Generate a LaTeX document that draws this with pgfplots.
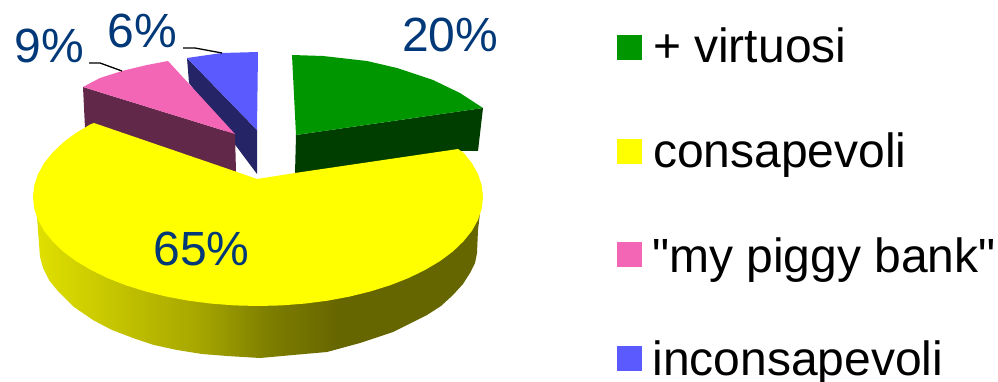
\documentclass[border=0pt]{standalone}
\usepackage{fontspec}
\setmainfont{Liberation Sans}
% Same face without TeX ligatures, so that " stays a straight quote
\newfontfamily\straightquotes{Liberation Sans}
\usepackage{pgfplots}
\pgfplotsset{compat=1.18}
\definecolor{gtop}{RGB}{0,150,0}
\definecolor{gside}{RGB}{0,62,0}
\definecolor{ytop}{RGB}{255,255,0}
\definecolor{ptop}{RGB}{243,102,181}
\definecolor{pside}{RGB}{98,40,73}
\definecolor{btop}{RGB}{90,90,255}
\definecolor{bside}{RGB}{36,36,102}
\definecolor{lab}{RGB}{0,56,120}
% Rim of the large slice: light on the left, dark from about two thirds across
\pgfdeclarehorizontalshading{yrim}{100bp}{
  color(0bp)=(ytop!88!black);
  color(25bp)=(ytop!88!black);
  color(32.5bp)=(ytop!79!black);
  color(43.5bp)=(ytop!65!black);
  color(51.5bp)=(ytop!49!black);
  color(59bp)=(ytop!40!black);
  color(100bp)=(ytop!40!black)}
\newcommand{\labelsize}{\fontsize{48}{52}\selectfont}
\begin{document}
\begin{tikzpicture}[x=1pt,y=1pt]
\path[use as bounding box] (0,0) rectangle (998,382);
\begin{axis}[
  at={(0,0)},anchor=south west,
  scale only axis,width=998pt,height=382pt,
  xmin=0,xmax=998,ymin=0,ymax=382,y dir=reverse,
  hide axis,clip=false,
  every axis plot/.append style={draw=none,mark=none},
]
% 6% slice
\addplot[fill=bside] coordinates {(187,58)(189,83)(257,174)(257,130)} --cycle;
\addplot[fill=btop] coordinates {(187,58)(222,53)(258,52)(257,130)} --cycle;
% 9% slice
\addplot[fill=pside] coordinates {(83,87)(85,128)(236,172)(235,134)} --cycle;
\addplot[fill=ptop] coordinates {(83,87)(100,78)(122,71)(147,65)(168,61)(235,134)} --cycle;
% 20% slice
\addplot[fill=gside] coordinates {(296,135)(483,108)(478,151)(458,151)(295,174)} --cycle;
\addplot[fill=gtop] coordinates {(292,55)(323,56)(367,61)(397,68)(433,80)(460,93)(483,108)(296,135)} --cycle;
% 65% slice: rim first, then the top face
\addplot[shading=yrim] coordinates {
  (34,205)(37,217)(40,257)(43,268)(49,280)(57,290)(74,307)(93,320)(112,330)(133,338)(154,345)
  (177,350)(202,354)(227,356)(260,358)(293,355)(327,352)(360,343)(393,332)(411,323)(427,315)
  (441,306)(453,295)(463,284)(470,273)(475,263)(477,253)(478,230)(481,205)(300,200)} --cycle;
\addplot[fill=ytop] coordinates {
  (94,123)(237,172)(257,179)(295,173)(458,149)(463.5,152.7)(472,163.3)(478.1,174.3)(481.8,185.6)(483,197)
  (481.8,208.4)(478.1,219.7)(472,230.7)(463.5,241.3)(452.9,251.5)(440,261.1)(425.2,269.9)(408.6,278)
  (390.3,285.2)(370.5,291.4)(349.5,296.6)(327.5,300.7)(304.8,303.6)(281.5,305.4)(258,306)(234.5,305.4)
  (211.2,303.6)(188.5,300.7)(166.5,296.6)(145.5,291.4)(125.7,285.2)(107.4,278)(90.8,269.9)(76,261.1)
  (63.1,251.5)(52.5,241.3)(44,230.7)(37.9,219.7)(34.2,208.4)(33,197)(34.2,185.6)(37.9,174.3)(44,163.3)
  (52.5,152.7)(63.1,142.5)(76,132.9)(90.8,124.1)} --cycle;
% leader lines
\addplot[draw=black,line width=1.3pt] coordinates {(183,48)(195,48)(222,53)};
\addplot[draw=black,line width=1.3pt] coordinates {(89,63)(100,63)(122,71)};
% legend swatches
\addplot[fill=gtop] coordinates {(617,35)(642,35)(642,60)(617,60)} --cycle;
\addplot[fill=ytop] coordinates {(617,139)(642,139)(642,164)(617,164)} --cycle;
\addplot[fill=ptop] coordinates {(617,242)(642,242)(642,267)(617,267)} --cycle;
\addplot[fill=btop] coordinates {(617,346)(642,346)(642,371)(617,371)} --cycle;
% percentages and legend entries
\begin{scope}[every node/.style={anchor=base west,inner sep=0pt,outer sep=0pt,font=\labelsize}]
\node[text=lab] at (axis cs:402,52) {20\%};
\node[text=lab] at (axis cs:153.5,265) {65\%};
\node[text=lab] at (axis cs:14.5,63) {9\%};
\node[text=lab] at (axis cs:107.5,48) {6\%};
\node at (axis cs:653,63) {+ virtuosi};
\node at (axis cs:653,168) {consapevoli};
\node at (axis cs:652,272) {\straightquotes "my piggy bank"};
\node at (axis cs:652.5,375) {inconsapevoli};
\end{scope}
\end{axis}
\end{tikzpicture}
\end{document}
